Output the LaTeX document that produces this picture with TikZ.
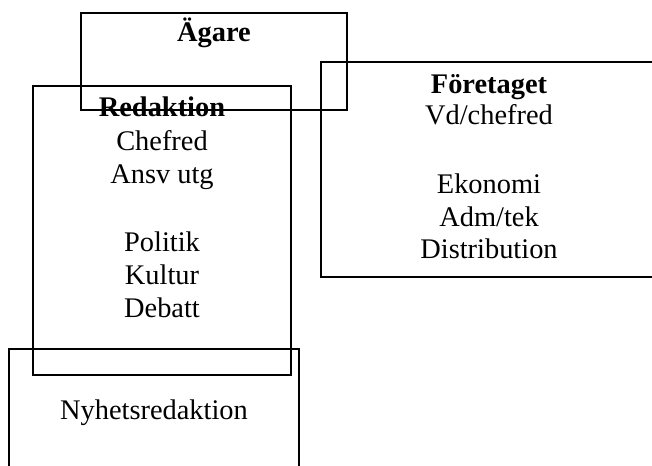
\documentclass[tikz,border=0pt]{standalone}
\usepackage{fontspec}
\setmainfont{Liberation Serif}
\tikzset{
  box/.style={draw, line width=0.7pt},
  txt/.style={inner sep=0pt, anchor=base, font=\fontsize{14.2}{16.8}\selectfont},
  head/.style={txt, font=\fontsize{14.2}{16.8}\selectfont\bfseries},
}
\begin{document}
\begin{tikzpicture}[x=0.5pt, y=-0.5pt]
        \useasboundingbox (0,0) rectangle (652,465);
        \clip (0,0) rectangle (652,465);

        %owner
        \node[head] (agare) at (214, 42) {Ägare};

        %editorial
        \node[head] (redaktion) at (162, 116) {Redaktion};
        \node[txt] (chefred) at (162, 150) {Chefred};
        \node[txt] (ansvutg) at (162, 183) {Ansv utg};
        \node[txt] (politik) at (162, 251) {Politik};
        \node[txt] (kultur) at (162, 284) {Kultur};
        \node[txt] (debatt) at (162, 317) {Debatt};

        %company
        \node[head] (foretaget) at (489, 93) {Företaget};
        \node[txt] (vd) at (489, 125) {Vd/chefred};
        \node[txt] (ekonomi) at (489, 193) {Ekonomi};
        \node[txt] (admtek) at (489, 226) {Adm/tek};
        \node[txt] (distribution) at (489, 258) {Distribution};

        %news desk
        \node[txt] (nyheter) at (154, 419) {Nyhetsredaktion};

        %boxes
        \draw[box] (81, 13) rectangle (347, 110);
        \draw[box] (33, 86) rectangle (291, 375);
        \draw[box] (321, 62) rectangle (660, 277);
        \draw[box] (9, 349) rectangle (299, 480);
    \end{tikzpicture}
\end{document}
